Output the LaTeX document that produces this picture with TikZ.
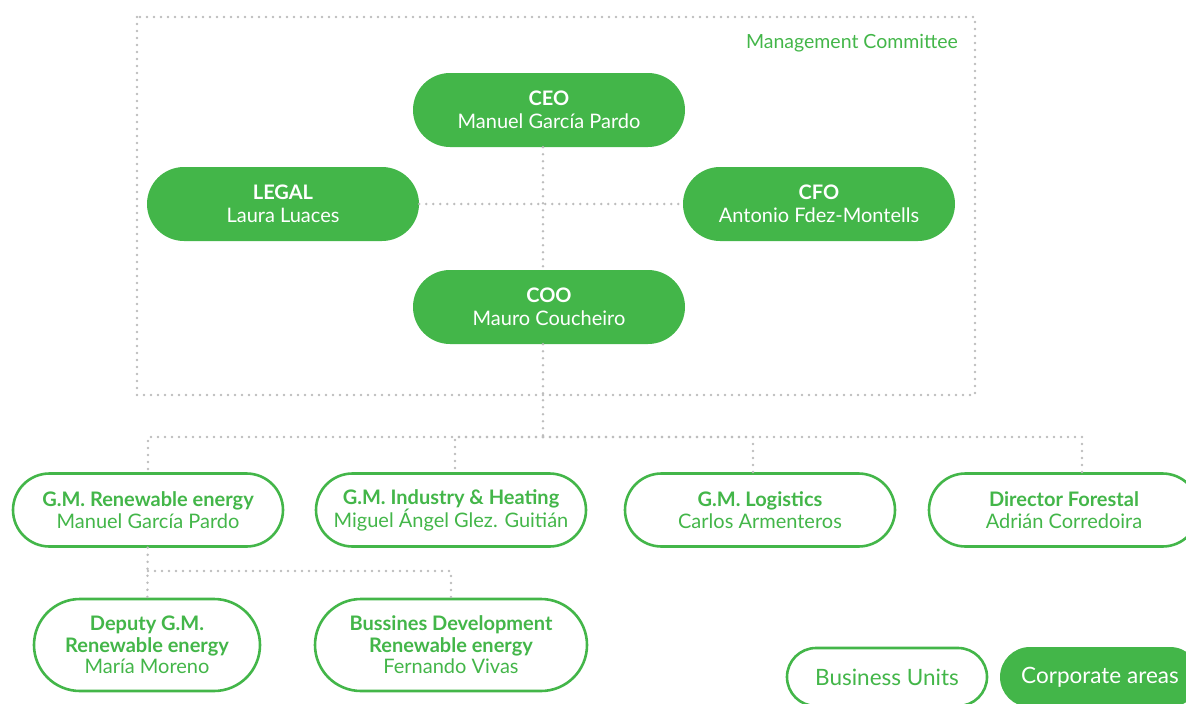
\documentclass[tikz,border=0pt]{standalone}
\usepackage{fontspec}
\setmainfont{Lato}
\usetikzlibrary{shapes.misc}
\definecolor{leafgreen}{HTML}{43B649}
\definecolor{dotgray}{HTML}{BDBDBD}

\begin{document}
\begin{tikzpicture}[x=1pt,y=-1pt,
	corp/.style={rounded rectangle,fill=leafgreen,text=white,minimum width=272pt,minimum height=74pt,inner sep=0pt,align=center,font=\fontsize{20}{23}\selectfont},
	unit/.style={rounded rectangle,draw=leafgreen,line width=2.6pt,fill=white,text=leafgreen,minimum width=270pt,minimum height=73pt,inner sep=0pt,align=center,font=\fontsize{20}{21.5}\selectfont},
	link/.style={dotgray,line width=2.8pt,line cap=round,dash pattern=on 0pt off 7pt}]
	\useasboundingbox (0,0) rectangle (1186,704);
	% management committee frame
	\draw[link] (137,17) rectangle (975,395);
	\path (852,43) node[text=leafgreen,font=\fontsize{19.5}{22}\selectfont] (mc) {Management Committee};
	\path (549,110) node[corp] (ceo) {\textbf{CEO}\\Manuel García Pardo}
	(283,204) node[corp] (legal) {\textbf{LEGAL}\\Laura Luaces}
	(819,204) node[corp] (cfo) {\textbf{CFO}\\Antonio Fdez-Montells}
	(549,307) node[corp] (coo) {\textbf{COO}\\Mauro Coucheiro};
	% business units
	\path (148,510) node[unit] (renew) {\textbf{G.M. Renewable energy}\\Manuel García Pardo}
	(451,510) node[unit] (industry) {\textbf{G.M. Industry \& Heating}\\Miguel Ángel Glez. Guitián}
	(760,510) node[unit] (logistics) {\textbf{G.M. Logistics}\\Carlos Armenteros}
	(1064,510) node[unit] (forestal) {\textbf{Director Forestal}\\Adrián Corredoira}
	(147,645) node[unit,minimum width=226pt,minimum height=92pt] (deputy) {\textbf{Deputy G.M.}\\\textbf{Renewable energy}\\María Moreno}
	(451,645) node[unit,minimum width=272pt,minimum height=92pt] (bizdev) {\textbf{Bussines Development}\\\textbf{Renewable energy}\\Fernando Vivas};
	% legend
	\path (887,677) node[unit,minimum width=200pt,minimum height=58pt,font=\fontsize{22.5}{26}\selectfont] (legunit) {Business Units}
	(1100,677) node[corp,minimum width=200pt,minimum height=60pt,font=\fontsize{22.5}{26}\selectfont] (legcorp) {Corporate areas};
	% connectors
	\coordinate (bus) at (543,437);
	\coordinate (split) at (148,571);
	\draw[link] ([xshift=-6pt]ceo.south) -- ([xshift=-6pt]coo.north);
	\draw[link] (legal) -- (cfo);
	\draw[link] ([xshift=-6pt]coo.south) -- (bus);
	\draw[link] (bus) -| (renew);
	\draw[link] (bus) -| ([xshift=4pt]industry.north);
	\draw[link] (bus) -| ([xshift=-7pt]logistics.north);
	\draw[link] (bus) -| ([xshift=18pt]forestal.north);
	\draw[link] (renew) -- (deputy);
	\draw[link] (split) -| (bizdev);
\end{tikzpicture}
\end{document}
